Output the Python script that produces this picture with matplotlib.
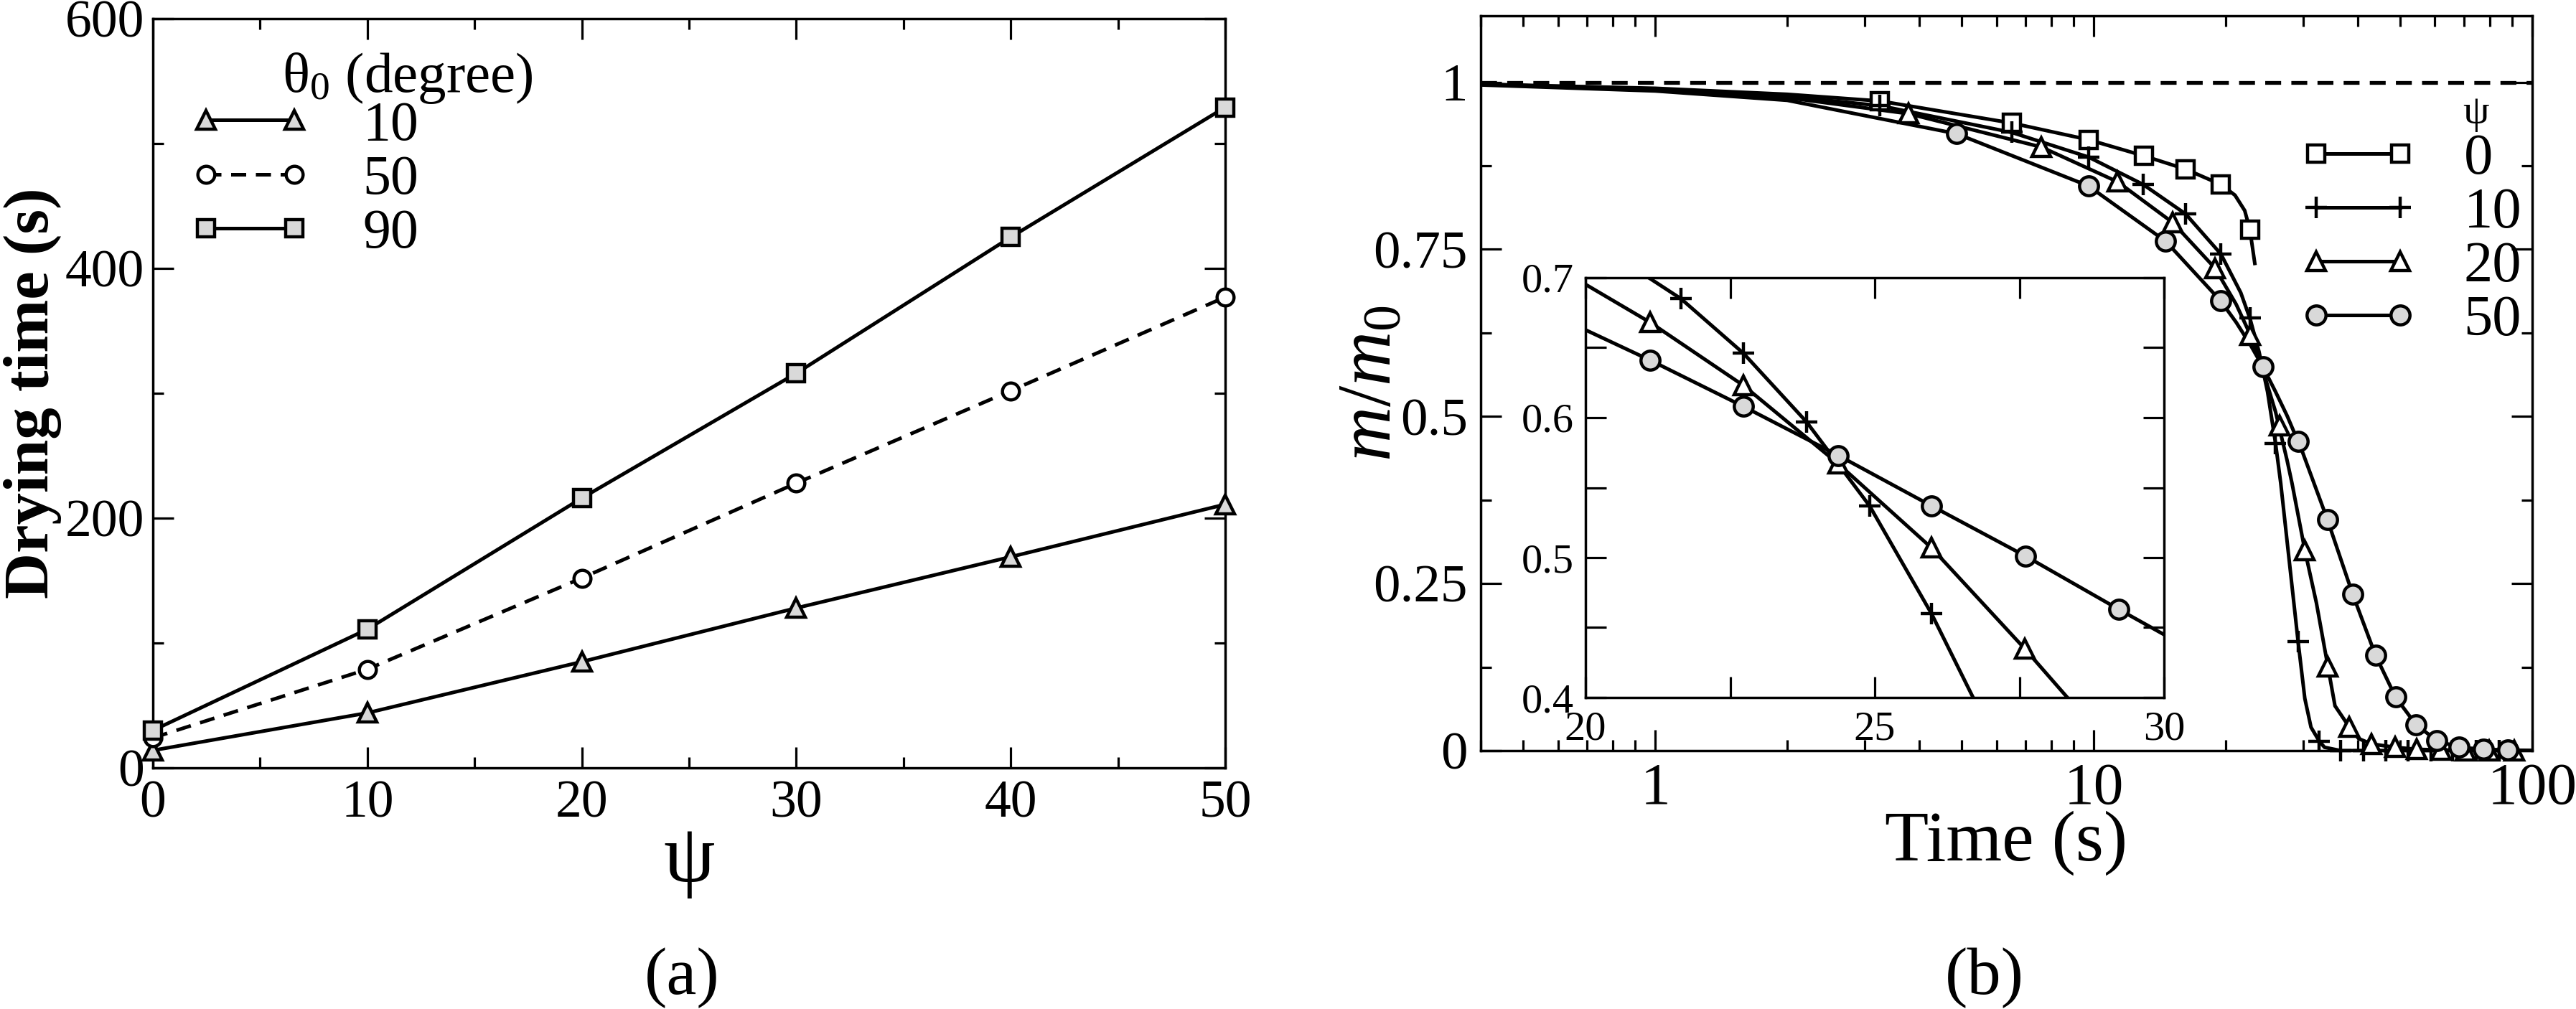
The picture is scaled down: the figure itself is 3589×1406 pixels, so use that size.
import numpy as np
import matplotlib
matplotlib.use('Agg')
import matplotlib.pyplot as plt
from matplotlib.lines import Line2D
from matplotlib.ticker import MultipleLocator, LogLocator, FuncFormatter, NullFormatter

plt.rcParams['font.family'] = ['Liberation Serif', 'DejaVu Serif']
plt.rcParams['mathtext.fontset'] = 'custom'
plt.rcParams['mathtext.rm'] = 'Liberation Serif'
plt.rcParams['mathtext.it'] = 'Liberation Serif:italic'
plt.rcParams['mathtext.bf'] = 'Liberation Serif:bold'

# ---- panel (a): drying time vs psi ----
psi = [0, 10, 20, 30, 40, 50]
dry_theta10 = [14, 44, 85, 128, 169, 211]
dry_theta50 = [24, 79, 152, 228, 302, 377]
dry_theta90 = [30, 111, 216, 316, 425, 529]

# ---- panel (b): m/m0 vs time ----
t_psi0 = [0.4, 1, 2, 3.25, 6.5, 9.74, 13.0, 16.2, 19.5, 21.0, 22.1, 22.7, 23.3]
m_psi0 = [0.997, 0.991, 0.982, 0.972, 0.939, 0.914, 0.890, 0.870, 0.847, 0.831, 0.808, 0.780, 0.729]

t_psi10 = [0.4, 1, 2, 3.25, 6.5, 9.74, 12.97, 16.2, 19.5, 21.65, 22.73, 23.82, 24.91, 25.98,
           26.7, 29.25, 30.3, 31.3, 32.7, 33.6, 36.6, 100]
m_psi10 = [0.997, 0.990, 0.979, 0.965, 0.925, 0.888, 0.847, 0.803, 0.743, 0.685, 0.646, 0.597, 0.537, 0.460,
           0.400, 0.163, 0.078, 0.035, 0.014, 0.005, 0.0, 0.0]

t_psi20 = [0.4, 1, 2, 3.78, 7.6, 11.34, 15.15, 18.9, 21.12, 22.73, 24.37, 25.98, 27.59, 28.33,
           30.3, 32.2, 34.2, 35.5, 38.3, 40.2, 43.0, 48.7, 54.5, 62, 100]
m_psi20 = [0.997, 0.989, 0.977, 0.953, 0.903, 0.851, 0.790, 0.722, 0.668, 0.623, 0.567, 0.507, 0.435, 0.400,
           0.300, 0.221, 0.126, 0.067, 0.035, 0.018, 0.010, 0.005, 0.002, 0.001, 0.0]

t_psi50 = [0.4, 1, 2, 4.87, 9.72, 14.6, 19.47, 21.12, 22.73, 24.37, 25.98, 27.61, 29.22, 30.0,
           34.1, 38.96, 43.9, 48.8, 54.3, 60.6, 68.0, 77.5, 88.0, 100]
m_psi50 = [0.996, 0.987, 0.973, 0.923, 0.845, 0.762, 0.673, 0.641, 0.608, 0.573, 0.537, 0.501, 0.463, 0.445,
           0.346, 0.234, 0.143, 0.080, 0.039, 0.015, 0.005, 0.002, 0.001, 0.0]

# symbols shown on the main panel
mk_t_psi0 = [3.25, 6.5, 9.74, 13.0, 16.2, 19.5, 22.7]
mk_m_psi0 = [0.972, 0.939, 0.914, 0.890, 0.870, 0.847, 0.780]
mk_t_psi10 = [3.25, 6.5, 9.74, 12.97, 16.2, 19.5, 22.7, 25.9, 29.25, 32.7, 36.6, 41.3, 46.3, 52.1, 58.8, 65.8, 74.5, 84.2]
mk_m_psi10 = [0.965, 0.925, 0.888, 0.847, 0.803, 0.743, 0.647, 0.460, 0.163, 0.014, 0, 0, 0, 0, 0, 0, 0, 0]
mk_t_psi20 = [3.78, 7.6, 11.34, 15.15, 18.9, 22.7, 26.5, 30.3, 34.2, 38.3, 43.0, 48.7, 54.5, 62.0, 70.5, 79.9, 91.0]
mk_m_psi20 = [0.953, 0.903, 0.851, 0.790, 0.722, 0.622, 0.486, 0.300, 0.126, 0.035, 0.010, 0.005, 0.002, 0.001, 0, 0, 0]
mk_t_psi50 = [4.87, 9.72, 14.6, 19.47, 24.33, 29.25, 34.1, 38.96, 43.9, 48.8, 54.3, 60.6, 68.0, 77.5, 88.0]
mk_m_psi50 = [0.923, 0.845, 0.762, 0.673, 0.574, 0.463, 0.346, 0.234, 0.143, 0.080, 0.039, 0.015, 0.005, 0.002, 0.001]

# symbols shown in the inset
in_t_psi10 = [21.65, 22.73, 23.82, 24.91, 25.98]
in_m_psi10 = [0.685, 0.646, 0.597, 0.537, 0.460]
in_t_psi20 = [21.12, 22.73, 24.37, 25.98, 27.59]
in_m_psi20 = [0.668, 0.623, 0.567, 0.507, 0.435]
in_t_psi50 = [21.12, 22.73, 24.37, 25.98, 27.61, 29.22]
in_m_psi50 = [0.641, 0.608, 0.573, 0.537, 0.501, 0.463]

W, H = 3589.0, 1406.0
GRAY = '#d9d9d9'
LW = 3.6
MEW = 3.2


def px_box(x0, y0, x1, y1):
    return [x0 / W, 1 - y1 / H, (x1 - x0) / W, (y1 - y0) / H]


def style_axes(ax, labelsize, major=21, minor=11):
    ax.tick_params(which='both', direction='in', top=True, right=True, width=2.3,
                   labelsize=labelsize)
    ax.tick_params(which='major', length=major)
    ax.tick_params(which='minor', length=minor)
    for s in ax.spines.values():
        s.set_linewidth(2.5)


fig = plt.figure(figsize=(W / 100, H / 100), dpi=100)

# ================= (a) =================
ax1 = fig.add_axes(px_box(213, 26, 1707, 1070))
ax1.plot(psi, dry_theta10, '-', color='k', lw=LW, marker='^', ms=19, mfc=GRAY, mec='k', mew=MEW, clip_on=False, zorder=3)
ax1.plot(psi, dry_theta50, color='k', lw=LW, ls=(0, (4.2, 2.7)), marker='o', ms=17, mfc='white', mec='k', mew=MEW, clip_on=False, zorder=3)
ax1.plot(psi, dry_theta90, '-', color='k', lw=LW, marker='s', ms=17, mfc=GRAY, mec='k', mew=MEW, clip_on=False, zorder=3)
ax1.set_xlim(0, 50)
ax1.set_ylim(0, 600)
ax1.xaxis.set_major_locator(MultipleLocator(10))
ax1.xaxis.set_minor_locator(MultipleLocator(5))
ax1.yaxis.set_major_locator(MultipleLocator(200))
ax1.yaxis.set_minor_locator(MultipleLocator(100))
style_axes(ax1, 53)
ax1.tick_params(axis='y', pad=8.6)
ax1.tick_params(axis='x', pad=12)
ax1.set_xlabel('ψ', fontsize=82)
ax1.xaxis.set_label_coords(0.5, -0.075)
ax1.set_ylabel('Drying time (s)', fontsize=64, fontweight='bold')
ax1.yaxis.set_label_coords(-0.085, 0.5)

h10 = Line2D([], [], color='k', lw=LW, marker='^', ms=19, mfc=GRAY, mec='k', mew=MEW)
h50 = Line2D([], [], color='k', lw=LW, ls=(0, (4.2, 2.7)), marker='o', ms=17, mfc='white', mec='k', mew=MEW)
h90 = Line2D([], [], color='k', lw=LW, marker='s', ms=17, mfc=GRAY, mec='k', mew=MEW)
ax1.legend([h10, h50, h90], ['10', '50', '90'], loc='upper left',
           bbox_to_anchor=(264 / W, 1 - 140 / H), bbox_transform=fig.transFigure,
           numpoints=2, handlelength=2.18, handletextpad=0.92, labelspacing=0.05,
           borderpad=0, borderaxespad=0, frameon=False, fontsize=56)
fig.text(393 / W, 1 - 128 / H, r'θ$_0$ (degree)', fontsize=57, ha='left', va='baseline')

# ================= (b) =================
ax2 = fig.add_axes(px_box(2063, 21.5, 3528, 1046))
ax2.set_xscale('log')
ax2.axhline(1.0, color='k', lw=3.8, ls=(0, (4.2, 2.7)))

series = [
    (t_psi0, m_psi0, mk_t_psi0, mk_m_psi0, dict(marker='s', ms=17, mfc='white')),
    (t_psi10, m_psi10, mk_t_psi10, mk_m_psi10, dict(marker='+', ms=22, mfc='none')),
    (t_psi20, m_psi20, mk_t_psi20, mk_m_psi20, dict(marker='^', ms=19, mfc='white')),
    (t_psi50, m_psi50, mk_t_psi50, mk_m_psi50, dict(marker='o', ms=19, mfc=GRAY)),
]
handles = []
for tc, mc, tm, mm, st in series:
    ax2.plot(tc, mc, '-', color='k', lw=LW, zorder=2)
    ax2.plot(tm, mm, ls='none', mec='k', mew=MEW, clip_on=False, zorder=3, **st)
    handles.append(Line2D([], [], color='k', lw=LW, mec='k', mew=MEW, **st))

ax2.set_xlim(0.4, 100)
ax2.set_ylim(0, 1.1)
ax2.xaxis.set_major_locator(LogLocator(base=10))
ax2.xaxis.set_minor_locator(LogLocator(base=10, subs=np.arange(2, 10)))
ax2.xaxis.set_major_formatter(FuncFormatter(lambda v, p: '%g' % v))
ax2.xaxis.set_minor_formatter(NullFormatter())
ax2.yaxis.set_major_locator(MultipleLocator(0.25))
ax2.yaxis.set_minor_locator(MultipleLocator(0.125))
ax2.yaxis.set_major_formatter(FuncFormatter(lambda v, p: '%g' % v))
style_axes(ax2, 54)
ax2.tick_params(axis='x', labelsize=60, pad=11.5)
ax2.tick_params(axis='y', pad=13)
ax2.set_xlabel('Time (s)', fontsize=72)
ax2.xaxis.set_label_coords(0.5, -0.082)
ax2.set_ylabel(r'$m/m_{\mathit{0}}$', fontsize=76)
ax2.yaxis.set_label_coords(-0.07, 0.5)

ax2.legend(handles, ['0', '10', '20', '50'], loc='upper left',
           bbox_to_anchor=(3203 / W, 1 - 186 / H), bbox_transform=fig.transFigure,
           numpoints=2, handlelength=2.05, handletextpad=0.8, labelspacing=0.02,
           borderpad=0, borderaxespad=0, frameon=False, fontsize=58)
# legend heading, kept just clear of the first entry
fig.text(3449 / W, 1 - 184 / H, 'ψ', fontsize=42, ha='center', va='bottom')

# ----- inset -----
ax3 = fig.add_axes(px_box(2209, 387, 3015, 972))
ax3.set_facecolor('white')
in_marks = [
    (in_t_psi10, in_m_psi10, series[1][4]),
    (in_t_psi20, in_m_psi20, series[2][4]),
    (in_t_psi50, in_m_psi50, series[3][4]),
]
for tc, mc, tm, mm, st in series:
    ax3.plot(tc, mc, '-', color='k', lw=LW, zorder=2)
for tm, mm, st in in_marks:
    ax3.plot(tm, mm, ls='none', mec='k', mew=MEW, zorder=3, **st)
ax3.set_xlim(20, 30)
ax3.set_ylim(0.4, 0.7)
ax3.xaxis.set_major_locator(MultipleLocator(5))
ax3.xaxis.set_minor_locator(MultipleLocator(2.5))
ax3.yaxis.set_major_locator(MultipleLocator(0.1))
ax3.yaxis.set_minor_locator(MultipleLocator(0.05))
ax3.yaxis.set_major_formatter(FuncFormatter(lambda v, p: '%g' % round(v, 2)))
style_axes(ax3, 42, major=21, minor=21)
ax3.tick_params(axis='y', pad=11.5)
ax3.tick_params(axis='x', pad=13)

fig.text(950 / W, 1 - 1363 / H, '(a)', fontsize=68, ha='center', va='center')
fig.text(2765 / W, 1 - 1363 / H, '(b)', fontsize=68, ha='center', va='center')

fig.savefig('out.png', dpi=100)
